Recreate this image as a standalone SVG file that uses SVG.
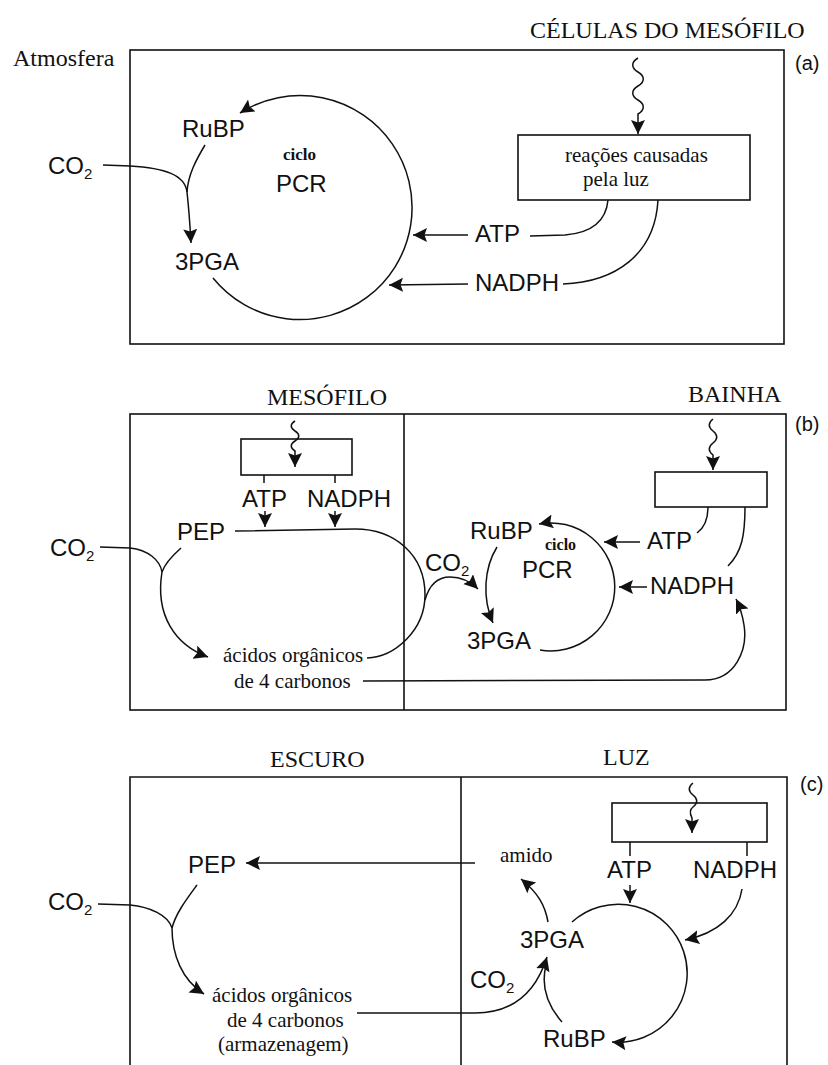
<svg xmlns="http://www.w3.org/2000/svg" width="828" height="1065" viewBox="0 0 828 1065">
<style>
.s{font-family:"Liberation Sans",Arial,sans-serif;font-size:24px;fill:#111}
.r{font-family:"Liberation Serif","Times New Roman",serif;font-size:21px;fill:#111}
.h{font-family:"Liberation Serif","Times New Roman",serif;font-size:24px;fill:#111}
.c{font-family:"Liberation Serif","Times New Roman",serif;font-size:17px;font-weight:bold;fill:#111}
.p{font-family:"Liberation Sans",Arial,sans-serif;font-size:20px;fill:#111}
.sub{font-size:15px}
.bx{fill:none;stroke:#111;stroke-width:1.6}
.ln{fill:none;stroke:#111;stroke-width:1.5}
.ar{fill:none;stroke:#111;stroke-width:1.5;marker-end:url(#ah)}
</style>
<defs>
<marker id="ah" markerUnits="userSpaceOnUse" markerWidth="18" markerHeight="16" refX="14" refY="7" orient="auto">
<path d="M0,0 L14,7 L0,14 L2.5,7 z" fill="#111"/>
</marker>
</defs>
<rect width="828" height="1065" fill="#fff"/>

<!-- Panel (a) -->
<g id="panel-a">
<rect class="bx" x="130" y="50" width="654" height="294"/>
<text class="h" x="13" y="66">Atmosfera</text>
<text class="h" x="530" y="38">CÉLULAS DO MESÓFILO</text>
<text class="p" x="795" y="70">(a)</text>
</g>
<g id="a-light-box">
<rect class="bx" x="518" y="135" width="232" height="65"/>
<text class="r" x="565" y="162">reações causadas</text>
<text class="r" x="583" y="186">pela luz</text>
</g>
<g id="a-rubp"><text class="s" x="182" y="137">RuBP</text></g>
<g id="a-cycle"><text class="c" x="283" y="160">ciclo</text><text class="s" x="276" y="192">PCR</text></g>
<g id="a-3pga"><text class="s" x="175" y="270">3PGA</text></g>
<g id="a-co2"><text class="s" x="48" y="174">CO<tspan class="sub" dy="5">2</tspan></text></g>
<g id="a-atp"><text class="s" x="475" y="242">ATP</text></g>
<g id="a-nadph"><text class="s" x="475" y="291">NADPH</text></g>

<!-- Panel (b) -->
<g id="panel-b">
<rect class="bx" x="130" y="414" width="656" height="296"/>
<line class="bx" x1="404" y1="414" x2="404" y2="710"/>
<text class="h" x="267" y="405">MESÓFILO</text>
<text class="h" x="688" y="402">BAINHA</text>
<text class="p" x="795" y="431">(b)</text>
</g>
<g id="b-box-left"><rect class="bx" x="241" y="439" width="111" height="36"/></g>
<g id="b-box-right"><rect class="bx" x="655" y="472" width="112" height="35"/></g>
<g id="b-atp-left"><text class="s" x="242" y="507">ATP</text></g>
<g id="b-nadph-left"><text class="s" x="307" y="507">NADPH</text></g>
<g id="b-pep"><text class="s" x="177" y="540">PEP</text></g>
<g id="b-co2-left"><text class="s" x="50" y="556">CO<tspan class="sub" dy="5">2</tspan></text></g>
<g id="b-acids">
<text class="r" x="223" y="662">ácidos orgânicos</text>
<text class="r" x="234" y="688">de 4 carbonos</text>
</g>
<g id="b-co2-mid"><text class="s" x="425" y="571">CO<tspan class="sub" dy="5">2</tspan></text></g>
<g id="b-rubp"><text class="s" x="470" y="539">RuBP</text></g>
<g id="b-cycle"><text class="c" x="545" y="550" style="font-size:16px">ciclo</text><text class="s" x="522" y="578">PCR</text></g>
<g id="b-3pga"><text class="s" x="467" y="649">3PGA</text></g>
<g id="b-atp-right"><text class="s" x="647" y="549">ATP</text></g>
<g id="b-nadph-right"><text class="s" x="650" y="594">NADPH</text></g>

<!-- Panel (c) -->
<g id="panel-c">
<path class="bx" d="M130,1065 V777 H787 V1065"/>
<line class="bx" x1="461" y1="777" x2="461" y2="1065"/>
<text class="h" x="270" y="767">ESCURO</text>
<text class="h" x="603" y="765">LUZ</text>
<text class="p" x="800" y="791">(c)</text>
</g>
<g id="c-box"><rect class="bx" x="612" y="803" width="155" height="39"/></g>
<g id="c-atp"><text class="s" x="607" y="878">ATP</text></g>
<g id="c-nadph"><text class="s" x="693" y="878">NADPH</text></g>
<g id="c-amido"><text class="r" x="500" y="862">amido</text></g>
<g id="c-pep"><text class="s" x="188" y="873">PEP</text></g>
<g id="c-co2-left"><text class="s" x="48" y="910">CO<tspan class="sub" dy="5">2</tspan></text></g>
<g id="c-acids">
<text class="r" x="212" y="1002">ácidos orgânicos</text>
<text class="r" x="227" y="1027">de 4 carbonos</text>
<text class="r" x="218" y="1051">(armazenagem)</text>
</g>
<g id="c-3pga"><text class="s" x="520" y="948">3PGA</text></g>
<g id="c-co2-mid"><text class="s" x="470" y="988">CO<tspan class="sub" dy="5">2</tspan></text></g>
<g id="c-rubp"><text class="s" x="543" y="1047">RuBP</text></g>

<!-- Connectors -->
<g id="connectors">
<!-- (a) -->
<path class="ar" d="M638,58 C631,62 631,68 638,72 C645,76 645,82 638,86 C631,90 631,96 638,100 C645,104 645,110 638,114 L638,134"/>
<path class="ar" d="M213,278 A112,112 0 1 0 240,113"/>
<path class="ar" d="M103,165 L130,166 C165,168 185,175 187,192 C189,210 190,225 191,243"/>
<path class="ln" d="M205,145 C196,160 188,175 187,192"/>
<path class="ar" d="M468,235 L413,235"/>
<path class="ln" d="M530,236 L565,235 C590,233 606,222 608,200"/>
<path class="ar" d="M468,284 L389,285"/>
<path class="ln" d="M563,284 C615,282 655,255 658,200"/>
<!-- (b) -->
<path class="ar" d="M295,421 C290,424 290,428 295,431 C300,434 300,438 295,441 C290,444 290,448 295,451 L295,467"/>
<path class="ar" d="M713,419 C708,423 708,427 713,431 C718,435 718,439 713,443 C708,447 708,451 713,455 L713,470"/>
<path class="ln" d="M264,475 V483 M335,475 V483"/>
<path class="ar" d="M265,511 L265,527"/>
<path class="ar" d="M335,511 L335,527"/>
<path class="ln" d="M235,531 L355,529 C395,529 425,555 425,595 C425,630 395,657 367,658"/>
<path class="ar" d="M425,600 C430,582 440,577 450,577 C462,577 472,583 478,589"/>
<path class="ar" d="M100,547 L130,548 C148,550 160,560 162,572 C155,615 175,645 208,657"/>
<path class="ln" d="M181,548 C172,556 165,563 162,572"/>
<path class="ar" d="M363,681 L705,680 C735,680 748,650 744,625 C742,612 739,605 736,599"/>
<path class="ar" d="M540,650 A64,64 0 1 0 539,524"/>
<path class="ar" d="M497,547 C484,568 482,598 493,623"/>
<path class="ar" d="M640,542 L604,542"/>
<path class="ln" d="M708,507 C708,520 704,528 697,533"/>
<path class="ar" d="M647,587 L619,587"/>
<path class="ln" d="M745,507 C745,535 742,552 728,566"/>
<!-- (c) -->
<path class="ar" d="M693,783 C688,787 688,791 693,795 C698,799 698,803 693,807 C689,810 690,814 692,818 L692,833"/>
<path class="ln" d="M630,842 V856 M747,842 V856"/>
<path class="ar" d="M630,885 L630,903"/>
<path class="ar" d="M742,889 C738,915 718,933 685,940"/>
<path class="ar" d="M572,922 A69,69 0 1 1 612,1042"/>
<path class="ar" d="M548,922 C545,905 538,893 521,879"/>
<path class="ar" d="M475,863 L246,863"/>
<path class="ar" d="M98,904 L130,905 C150,907 168,915 172,928 C172,955 182,980 204,994"/>
<path class="ln" d="M197,885 C186,900 176,913 172,928"/>
<path class="ar" d="M357,1013 L475,1013 C510,1013 535,995 547,957"/>
<path class="ln" d="M562,1022 C547,1005 541,985 546,965"/>
</g>
</svg>
